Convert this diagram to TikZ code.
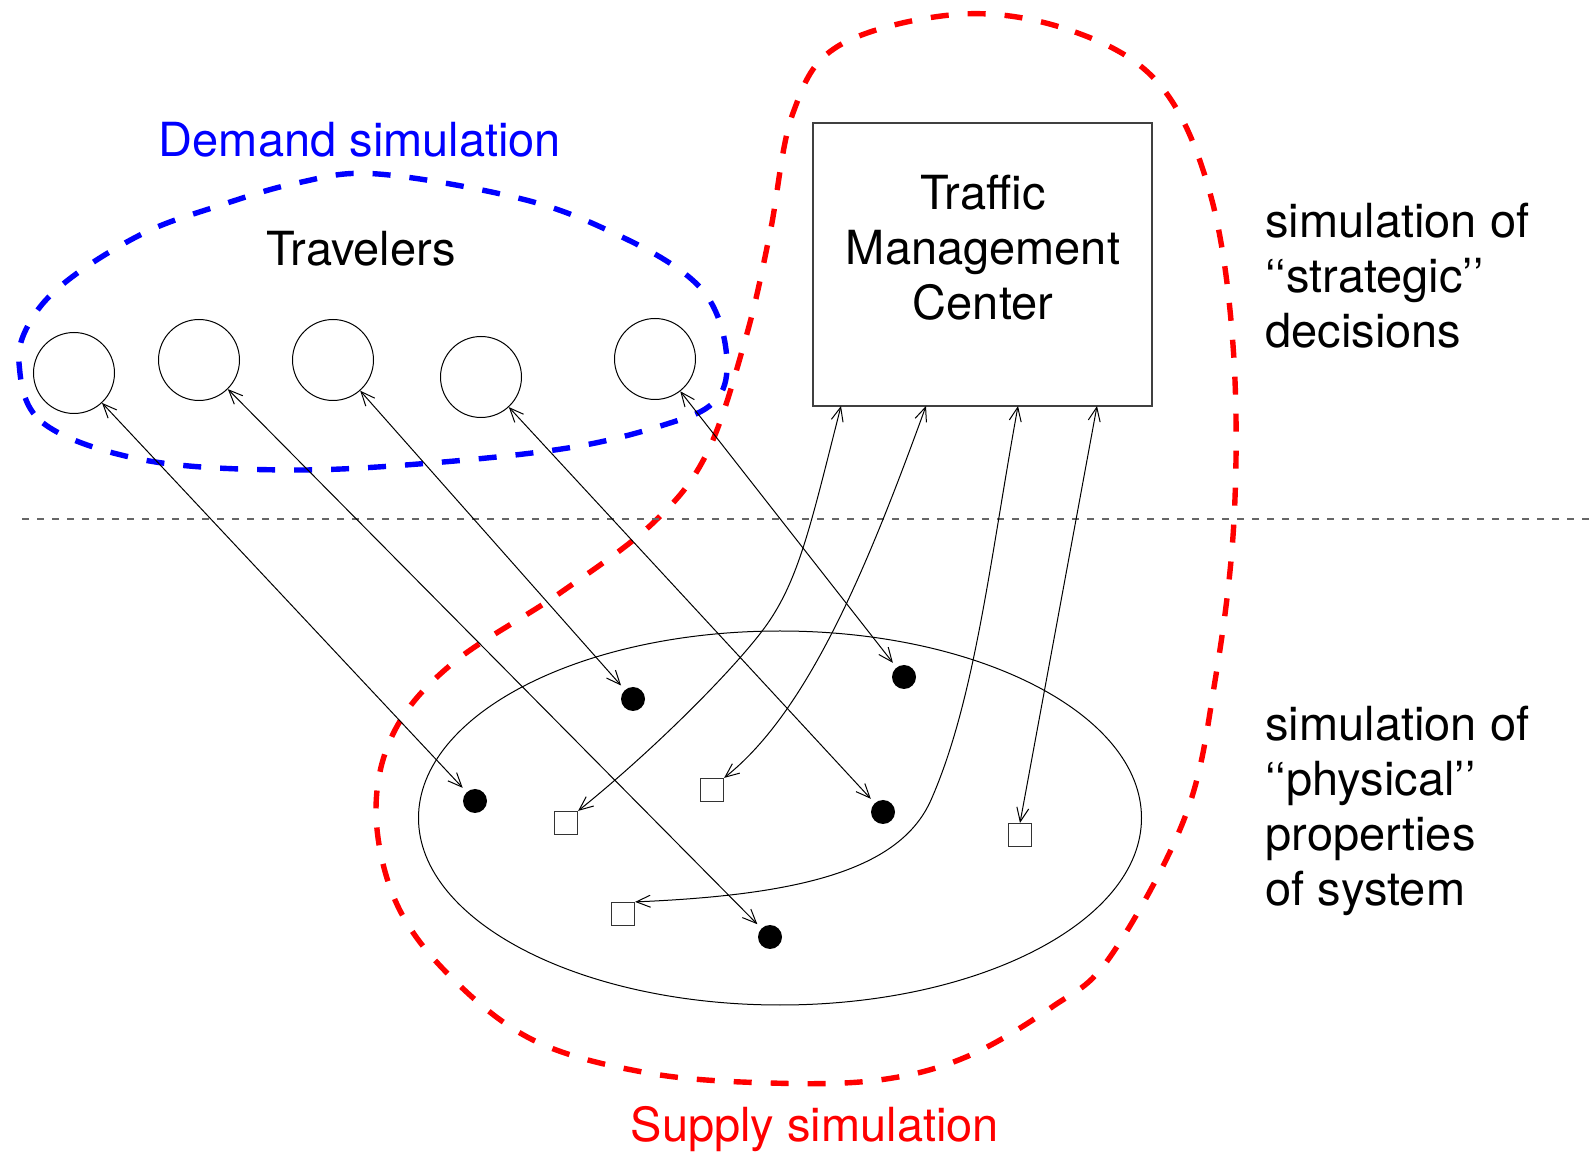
\documentclass[tikz,border=0pt]{standalone}
\usepackage{fontspec}
\setmainfont{TeX Gyre Heros}
\usetikzlibrary{
  arrows.meta,
  shapes.geometric
}

\begin{document}
\begin{tikzpicture}[
      x=0.5pt, y=-0.5pt,
      traveler/.style={
         circle,
         draw=black,
         line width=0.5pt,
         minimum size=40.5pt,
         inner sep=0pt
      },
      vehicle/.style={
         circle,
         fill=black,
         minimum size=12pt,
         inner sep=0pt,
         outer sep=3pt
      },
      sensor/.style={
         rectangle,
         draw=black!80,
         line width=0.6pt,
         minimum size=11.5pt,
         inner sep=0pt
      },
      centerbox/.style={
         rectangle,
         draw=black!75,
         line width=0.7pt,
         minimum width=169.5pt,
         minimum height=141.5pt
      },
      caption/.style={
         font=\fontsize{23.5}{27.5}\selectfont,
         inner sep=0pt
      },
      region/.style={line width=2.7pt, dash pattern=on 9pt off 9.5pt},
      divider/.style={draw=black!60, line width=0.7pt, dash pattern=on 3.5pt off 4pt},
      link/.style={<->, line width=0.5pt},
      >={Straight Barb[length=7pt,width=6pt]}
    ]
    \useasboundingbox (0,0) rectangle (1592,1154);

    % demand side
    \draw[region, blue] plot[smooth cycle, tension=0.6] coordinates {
       (19,363) (43,423) (144,460) (287,470) (431,463) (574,447) (670,423)
       (713,403) (727,370) (718,317) (689,277) (622,237) (526,200) (378,174)
       (297,183) (215,207) (144,233) (72,277) (33,317)};
    \node (demand) [caption, text=blue] at (360,140) {Demand simulation};
    \node (travelers) [caption] at (361,249) {Travelers};
    \node (c1) [traveler] at (74,373) {};
    \node (c2) [traveler] at (199,360) {};
    \node (c3) [traveler] at (333,360) {};
    \node (c4) [traveler] at (481,377) {};
    \node (c5) [traveler] at (655,359) {};

    % supply side
    \draw[region, red] plot[smooth cycle, tension=0.6] coordinates {
       (963,14) (1075,32) (1160,85) (1210,193) (1233,345) (1234,520)
       (1215,681) (1185,817) (1110,957) (1052,1007) (966,1057) (879,1080)
       (770,1083) (648,1073) (533,1040) (447,973) (395,900) (376,810)
       (395,730) (453,663) (560,593) (653,523) (707,453) (746,337)
       (770,233) (793,113) (840,45)};
    \node (supply) [caption, text=red] at (815,1129) {Supply simulation};

    \node (tmc) [centerbox] at (982.5,264.5) {};
    \node (tmctext) [caption, align=center] at (983,248) {Traffic\\Management\\Center};
    \coordinate (tmc1) at (841,406);
    \coordinate (tmc2) at (926,406);
    \coordinate (tmc3) at (1018,406);
    \coordinate (tmc4) at (1097,406);

    \node (net) [ellipse, draw, line width=0.5pt, minimum width=361.5pt, minimum height=187pt] at (780,818) {};
    \node (d1) [vehicle] at (475,801) {};
    \node (d2) [vehicle] at (770,937) {};
    \node (d3) [vehicle] at (633,699) {};
    \node (d4) [vehicle] at (883,812) {};
    \node (d5) [vehicle] at (904,677) {};
    \node (s1) [sensor] at (566,823) {};
    \node (s2) [sensor] at (712,790) {};
    \node (s3) [sensor] at (623,914) {};
    \node (s4) [sensor] at (1020,835) {};

    % levels
    \coordinate (divl) at (22,519);
    \coordinate (divr) at (1592,519);
    \draw[divider] (divl) -- (divr);
    \node (strategic) [caption, anchor=west, align=left] at (1265,276)
       {simulation of\\‘‘strategic’’\\decisions};
    \node (physical) [caption, anchor=west, align=left] at (1265,811)
       {simulation of\\‘‘physical’’\\properties\\of system};

    % interactions
    \draw[link] (c1) -- (d1);
    \draw[link] (c2) -- (d2);
    \draw[link] (c3) -- (d3);
    \draw[link] (c4) -- (d4);
    \draw[link] (c5) -- (d5);
    \draw[link] (tmc1) .. controls (812,520) and (800,575) .. (770,620)
       .. controls (745,658) and (660,745) .. (s1.north east);
    \draw[link] (tmc2) .. controls (870,560) and (810,710) .. (s2.north east);
    \draw[link] (tmc3) .. controls (990,560) and (975,700) .. (931,800)
       .. controls (900,870) and (800,895) .. (s3.north east);
    \draw[link] (tmc4) -- (s4.north);
\end{tikzpicture}
\end{document}
